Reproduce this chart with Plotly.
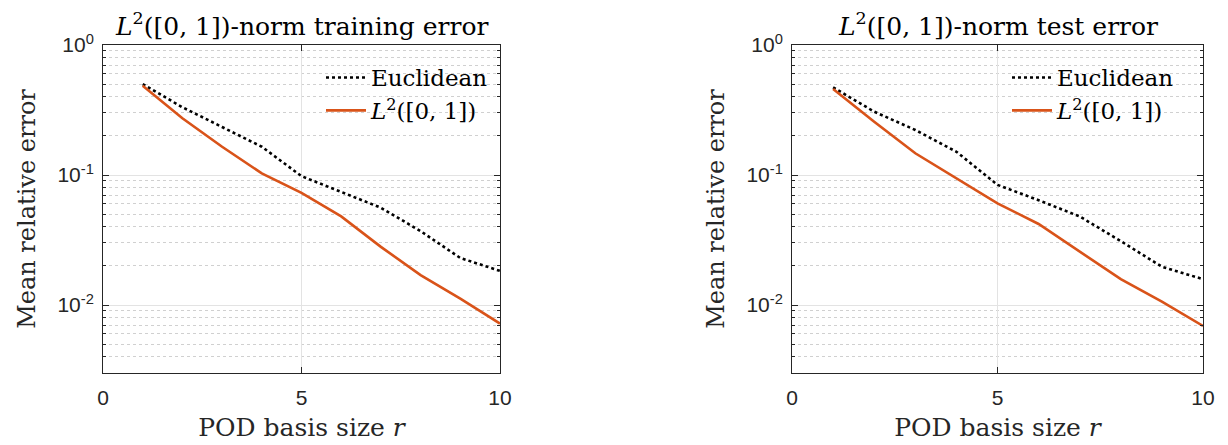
import plotly.graph_objects as go

# POD basis size
r_vals = [1, 2, 3, 4, 5, 6, 7, 8, 9, 10]

# training error (left panel)
train_euclid = [0.50, 0.332, 0.234, 0.165, 0.098, 0.074, 0.056, 0.037, 0.023, 0.0183]
train_l2 = [0.486, 0.273, 0.165, 0.103, 0.073, 0.048, 0.028, 0.017, 0.0112, 0.0072]

# test error (right panel)
test_euclid = [0.472, 0.307, 0.222, 0.151, 0.084, 0.064, 0.048, 0.031, 0.0197, 0.0158]
test_l2 = [0.459, 0.257, 0.147, 0.094, 0.0605, 0.042, 0.0257, 0.0158, 0.0106, 0.0069]

x_ticks = [0, 5, 10]
y_ticks = [1, 0.1, 0.01]
y_ticktext = ["10<sup>0</sup>", "10<sup>-1</sup>", "10<sup>-2</sup>"]

titles = ["<i>L</i><sup>2</sup>([0, 1])-norm training error",
          "<i>L</i><sup>2</sup>([0, 1])-norm test error"]
l2_name = "<i>L</i><sup>2</sup>([0, 1])"

SERIF = "DejaVu Serif"
SANS = "Liberation Sans"
ORANGE = "#D95319"
OFF = 8  # page body margin
W, H = 1228 - OFF, 445 - OFF

fig = go.Figure()

panels = [(train_euclid, train_l2, "x", "y", "legend"),
          (test_euclid, test_l2, "x2", "y2", "legend2")]
for eu, l2, xa, ya, lg in panels:
    fig.add_trace(go.Scatter(x=r_vals, y=eu, name="Euclidean", mode="lines",
                             line=dict(color="black", width=2.6, dash="dot"),
                             xaxis=xa, yaxis=ya, legend=lg))
    fig.add_trace(go.Scatter(x=r_vals, y=l2, name=l2_name, mode="lines",
                             line=dict(color=ORANGE, width=2.6),
                             xaxis=xa, yaxis=ya, legend=lg))

# plot areas in page pixels, and legend left edges
areas = [(103, 500), (792, 1203)]
legend_x = [321, 1007]
top, bottom = 45, 373
ydom = [1 - (bottom - OFF) / H, 1 - (top - OFF) / H]

axis_common = dict(showline=True, linecolor="#262626", linewidth=1, mirror="ticks",
                   ticks="inside", ticklen=6, tickcolor="#262626", automargin=False,
                   tickfont=dict(family=SANS, size=21, color="#262626"),
                   zeroline=False, gridcolor="#e3e3e3", gridwidth=1)

layout = dict(width=W, height=H, margin=dict(l=0, r=0, t=0, b=0),
              plot_bgcolor="white", paper_bgcolor="white", showlegend=True)

for i, (x0, x1) in enumerate(areas):
    sfx = "" if i == 0 else "2"
    layout["xaxis" + sfx] = dict(
        domain=[(x0 - OFF) / W, (x1 - OFF) / W], anchor="y" + sfx, range=[0, 10],
        tickvals=x_ticks, showgrid=True, ticklabelstandoff=6,
        title=dict(text="POD basis size <i>r</i>", standoff=10,
                   font=dict(family=SERIF, size=25, color="#262626")),
        **axis_common)
    layout["yaxis" + sfx] = dict(
        domain=ydom, anchor="x" + sfx, type="log", range=[-2.523, 0],
        tickvals=y_ticks, ticktext=y_ticktext, showgrid=True, ticklabelstandoff=4,
        minor=dict(dtick="D1", showgrid=True, griddash="dot", gridcolor="#d0d0d0",
                   ticks="inside", ticklen=3, tickcolor="#262626"),
        title=dict(text="Mean relative error", standoff=14,
                   font=dict(family=SERIF, size=24, color="#262626")),
        **axis_common)
    layout["legend" + ("" if i == 0 else "2")] = dict(
        x=(legend_x[i] - OFF) / W, y=1 - (56 - OFF) / H, xanchor="left", yanchor="top",
        bgcolor="rgba(0,0,0,0)", font=dict(family=SERIF, size=23, color="black"),
        tracegroupgap=0, itemwidth=40)

fig.update_layout(**layout)

for i, (x0, x1) in enumerate(areas):
    fig.add_annotation(text=titles[i], xref="paper", yref="paper",
                       x=((x0 + x1) / 2 - OFF) / W, y=1 - (25 - OFF) / H,
                       xanchor="center", yanchor="middle",
                       showarrow=False, font=dict(family=SERIF, size=25, color="black"))

fig.write_html("out.html")
